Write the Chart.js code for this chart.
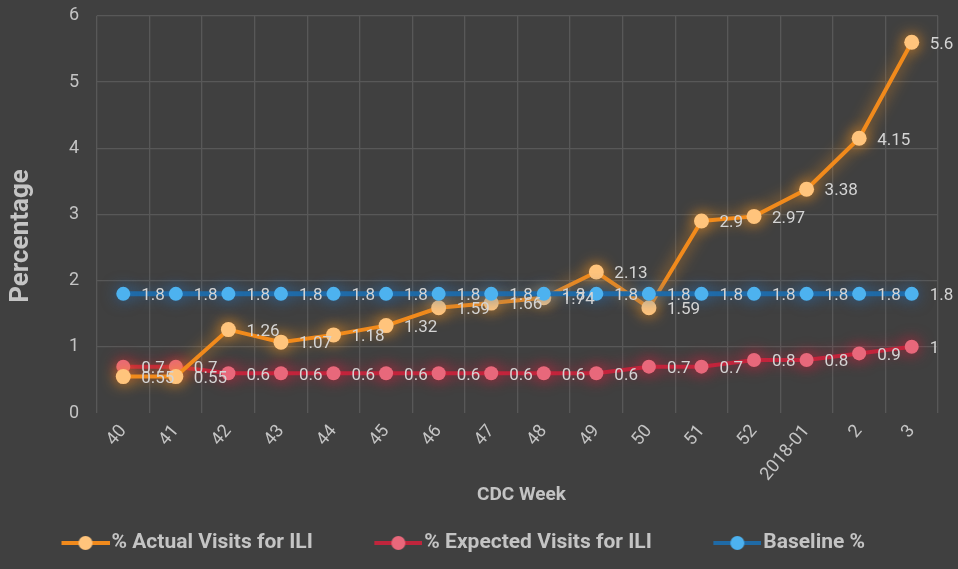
<!DOCTYPE html>
<html>
<head>
<meta charset="utf-8">
<script src="https://cdn.jsdelivr.net/npm/chart.js@4.4.0/dist/chart.umd.min.js"></script>
<style>
  html, body { margin: 0; padding: 0; background: #404040; }
  #wrap { width: 958px; height: 569px; position: relative; }
</style>
</head>
<body>
<div id="wrap"><canvas id="chart"></canvas></div>
<script>
// data
const weeks = ['40', '41', '42', '43', '44', '45', '46', '47', '48', '49', '50', '51', '52', '2018-01', '2', '3'];
const actualVisits = [0.55, 0.55, 1.26, 1.07, 1.18, 1.32, 1.59, 1.66, 1.74, 2.13, 1.59, 2.9, 2.97, 3.38, 4.15, 5.6];
const expectedVisits = [0.7, 0.7, 0.6, 0.6, 0.6, 0.6, 0.6, 0.6, 0.6, 0.6, 0.7, 0.7, 0.8, 0.8, 0.9, 1];
const baselinePct = [1.8, 1.8, 1.8, 1.8, 1.8, 1.8, 1.8, 1.8, 1.8, 1.8, 1.8, 1.8, 1.8, 1.8, 1.8, 1.8];
const yTicks = [0, 1, 2, 3, 4, 5, 6];

const FONT = "Roboto, 'Open Sans', sans-serif";
const TXT = '#c4c4c4';
const GRID = '#585858';
const BOX_W = 75;          // legend box width
const ICON_W = BOX_W + 17; // icon spills right so the line nearly touches the text
Chart.defaults.font.family = FONT;
Chart.defaults.color = TXT;

// little line+dot picture for the legend
function legendIcon(line, dot) {
  const c = document.createElement('canvas');
  c.width = ICON_W; c.height = 18;
  const g = c.getContext('2d');
  const x0 = ICON_W - 48;
  g.strokeStyle = line; g.lineWidth = 4;
  g.beginPath(); g.moveTo(x0, 9); g.lineTo(ICON_W, 9); g.stroke();
  g.fillStyle = dot;
  g.beginPath(); g.arc(x0 + 24, 9, 7, 0, Math.PI * 2); g.fill();
  return c;
}

const glow = {
  id: 'glow',
  beforeDatasetDraw(chart, args) {
    const ds = chart.data.datasets[args.index];
    chart.ctx.save();
    chart.ctx.shadowColor = ds.glowColor;
    chart.ctx.shadowBlur = 15;
  },
  afterDatasetDraw(chart) { chart.ctx.restore(); }
};

const valueLabels = {
  id: 'valueLabels',
  afterDatasetsDraw(chart) {
    const ctx = chart.ctx;
    ctx.save();
    ctx.font = '17px ' + FONT;
    ctx.fillStyle = '#d4d4d4';
    ctx.textAlign = 'left';
    ctx.textBaseline = 'middle';
    chart.data.datasets.forEach((ds, i) => {
      chart.getDatasetMeta(i).data.forEach((p, j) => {
        ctx.fillText(String(ds.data[j]), p.x + 18, p.y + 2);
      });
    });
    ctx.restore();
  }
};

const axisTitles = {
  id: 'axisTitles',
  afterDraw(chart) {
    const ctx = chart.ctx, a = chart.chartArea;
    ctx.save();
    ctx.fillStyle = TXT;
    ctx.textAlign = 'center';
    ctx.textBaseline = 'middle';
    ctx.font = 'bold 19px ' + FONT;
    ctx.fillText('CDC Week', (a.left + a.right) / 2 + 4, a.bottom + 82);
    ctx.translate(21, 236);
    ctx.rotate(-Math.PI / 2);
    ctx.font = 'bold 26px ' + FONT;
    ctx.fillText('Percentage', 0, 0);
    ctx.restore();
  }
};

new Chart(document.getElementById('chart'), {
  type: 'line',
  data: {
    labels: weeks,
    datasets: [
      {
        label: '% Actual Visits for ILI', data: actualVisits, order: 2,
        borderColor: '#f18a1c', borderWidth: 4, pointBackgroundColor: '#ffc47c', pointBorderWidth: 0,
        pointRadius: 7.5, glowColor: 'rgba(255,150,30,0.85)', icon: legendIcon('#f18a1c', '#ffc47c')
      },
      {
        label: '% Expected Visits for ILI', data: expectedVisits, order: 3,
        borderColor: '#c0253c', borderWidth: 4, pointBackgroundColor: '#e8687b', pointBorderWidth: 0,
        pointRadius: 7, glowColor: 'rgba(220,30,60,0.8)', icon: legendIcon('#c0253c', '#e8687b')
      },
      {
        label: 'Baseline %', data: baselinePct, order: 1,
        borderColor: '#1f6aa6', borderWidth: 5, pointBackgroundColor: '#4db2ef', pointBorderWidth: 0,
        pointRadius: 7, glowColor: 'rgba(40,120,200,0.6)', icon: legendIcon('#1f6aa6', '#4db2ef')
      }
    ]
  },
  options: {
    responsive: true,
    maintainAspectRatio: false,
    animation: false,
    layout: { padding: { top: 4, right: 20, left: 0, bottom: 5.5 } },
    plugins: {
      tooltip: { enabled: false },
      legend: {
        position: 'bottom',
        align: 'start',
        labels: {
          usePointStyle: true,
          pointStyleWidth: BOX_W,
          padding: 26,
          color: TXT,
          font: { size: 21, weight: 'bold' },
          generateLabels: chart => chart.data.datasets.map((ds, i) => ({
            text: ds.label, pointStyle: ds.icon, fontColor: TXT, datasetIndex: i,
            strokeStyle: 'transparent', lineWidth: 0
          }))
        }
      }
    },
    scales: {
      x: {
        offset: true,
        grid: { offset: true, color: GRID, lineWidth: 1.3, drawTicks: false },
        border: { display: false },
        ticks: { minRotation: 50, maxRotation: 50, padding: 8, font: { size: 18 }, color: TXT },
        afterFit: s => { s.height = 93.5; }
      },
      y: {
        min: 0, max: 6,
        afterBuildTicks: s => { s.ticks = yTicks.map(v => ({ value: v })); },
        grid: {
          color: c => c.tick.value === 0 ? 'rgba(0,0,0,0)' : GRID, lineWidth: 1.3,
          drawTicks: true, tickLength: 13, tickColor: 'rgba(0,0,0,0)'
        },
        border: { display: false },
        ticks: { padding: 5, font: { size: 18 }, color: TXT },
        afterFit: s => { s.width = 97; }
      }
    }
  },
  plugins: [glow, valueLabels, axisTitles]
});
</script>
</body>
</html>
